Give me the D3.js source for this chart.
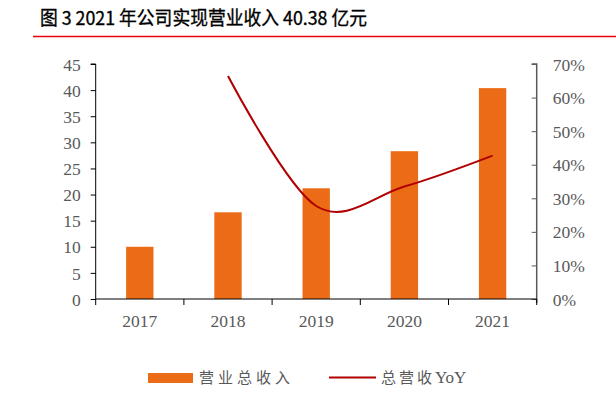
<!DOCTYPE html>
<html><head><meta charset="utf-8">
<script src="https://cdn.jsdelivr.net/npm/d3@7"></script>
<style>body{margin:0;background:#fff}svg{display:block}</style>
</head><body>
<svg id="c" width="616" height="406"></svg>
<script>
const years = ["2017","2018","2019","2020","2021"];
const revenue = [10.0, 16.6, 21.2, 28.3, 40.38];
const yoy = [null, 66.4, 27.7, 33.5, 42.7];
const leftTicks = [0,5,10,15,20,25,30,35,40,45];
const rightTicks = [0,10,20,30,40,50,60,70];
const title = "图 3 2021 年公司实现营业收入 40.38 亿元";
const legendLabels = ["营业总收入", "总营收", "YoY"];

const svg = d3.select("#c");
const m = {l: 95.7, r: 536.7, t: 64, b: 299};
const serif = "'Liberation Serif','Times New Roman',serif";
const sans = "'Noto Sans CJK SC','Noto Sans',sans-serif";

// title
svg.append("text").attr("x", 40).attr("y", 25)
  .attr("font-family", sans).attr("font-size", 19).attr("font-weight", 400)
  .attr("fill", "#000").attr("stroke", "#000").attr("stroke-width", 0.35)
  .attr("textLength", 327).attr("lengthAdjust", "spacingAndGlyphs")
  .text(title);
svg.append("line").attr("x1", 33).attr("x2", 616).attr("y1", 36.5).attr("y2", 36.5)
  .attr("stroke", "#e60012").attr("stroke-width", 1.5);

const x = d3.scaleBand().domain(years).range([m.l, m.r]).paddingInner(0).paddingOuter(0);
const yL = d3.scaleLinear().domain([0,45]).range([m.b, m.t]);
const yR = d3.scaleLinear().domain([0,70]).range([m.b, m.t]);

// bars
const bw = x.bandwidth() * 0.31;
svg.append("g").selectAll("rect").data(revenue).join("rect")
  .attr("x", (d,i) => x(years[i]) + x.bandwidth()/2 - bw/2)
  .attr("width", bw)
  .attr("y", d => yL(d))
  .attr("height", d => yL(0) - yL(d))
  .attr("fill", "#EC6B16");

// line
const pts = yoy.map((v,i) => ({x: x(years[i]) + x.bandwidth()/2, v})).filter(p => p.v !== null);
svg.append("path").datum(pts)
  .attr("d", d3.line().x(p => p.x).y(p => yR(p.v)).curve(d3.curveCardinal.tension(0)))
  .attr("fill", "none").attr("stroke", "#B00000").attr("stroke-width", 2);

// axes
const gL = svg.append("g").attr("transform", `translate(${m.l},0)`)
  .call(d3.axisLeft(yL).tickValues(leftTicks).tickSize(5).tickPadding(10));
const gR = svg.append("g").attr("transform", `translate(${m.r},0)`)
  .call(d3.axisRight(yR).tickValues(rightTicks).tickSize(-5).tickPadding(16).tickFormat(d => d + "%"));
const gB = svg.append("g").attr("transform", `translate(0,${m.b})`)
  .call(d3.axisBottom(x).tickValues([]).tickSize(0));
const edges = years.map(y => x(y)).concat([m.r]);
gB.selectAll("line.edge").data(edges).join("line").attr("class","edge")
  .attr("x1", d => d).attr("x2", d => d).attr("y1", 0).attr("y2", 6)
  .attr("stroke", "#000");
gB.selectAll("text.yr").data(years).join("text").attr("class","yr")
  .attr("x", d => x(d) + x.bandwidth()/2).attr("y", 28)
  .attr("text-anchor", "middle").attr("font-family", serif).attr("font-size", 17.5)
  .attr("fill", "#595959").text(d => d);

[gL, gR].forEach(g => {
  g.selectAll("text").attr("font-family", serif).attr("font-size", 17.5).attr("fill", "#595959");
});
gL.select(".domain").attr("stroke", "#000").attr("d", `M-5,${m.t}H0V${m.b}`);
gL.selectAll(".tick line").attr("stroke", "#000");
gR.select(".domain").attr("stroke", "#595959").attr("stroke-width", 1.5).attr("d", `M-5,${m.t}H0V${m.b+4}`);
gR.selectAll(".tick line").attr("stroke", "#595959");
gB.select(".domain").attr("stroke", "#000").attr("d", `M${m.l},0H${m.r}`);
gL.selectAll(".tick text").attr("dy", "0.35em");
gR.selectAll(".tick text").attr("dy", "0.35em");

// legend
const lg = svg.append("g");
lg.append("rect").attr("x", 148).attr("y", 373).attr("width", 45).attr("height", 10).attr("fill", "#EC6B16");
lg.append("text").attr("x", 199).attr("y", 383).attr("font-family", sans).attr("font-size", 15)
  .attr("fill", "#595959").attr("textLength", 91).attr("lengthAdjust", "spacing").text(legendLabels[0]);
lg.append("line").attr("x1", 329).attr("x2", 376).attr("y1", 377.5).attr("y2", 377.5)
  .attr("stroke", "#B00000").attr("stroke-width", 2);
const t2 = lg.append("text").attr("x", 381).attr("y", 383).attr("fill", "#595959");
t2.append("tspan").attr("font-family", sans).attr("font-size", 15).attr("letter-spacing", 3).text(legendLabels[1]);
t2.append("tspan").attr("font-family", serif).attr("font-size", 17).text(legendLabels[2]);
</script>
</body></html>
